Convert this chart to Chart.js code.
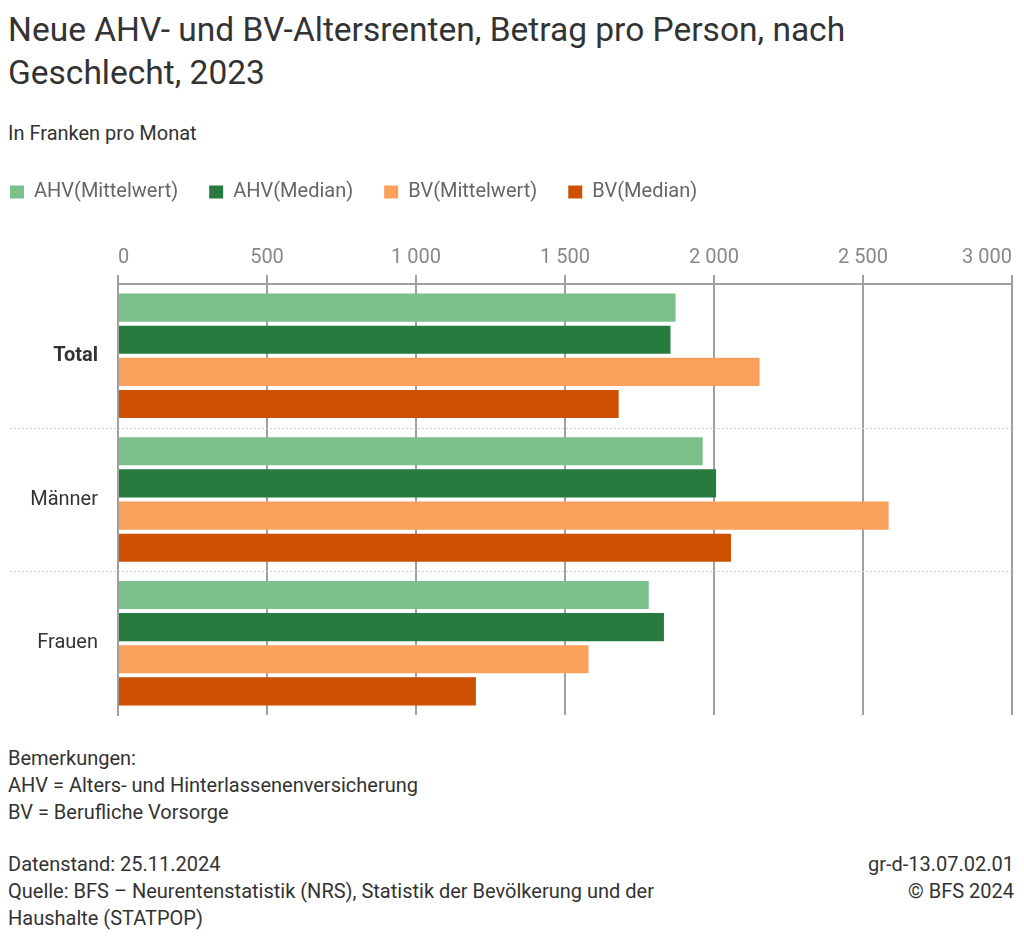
<!DOCTYPE html>
<html>
<head>
<meta charset="utf-8">
<script src="https://cdn.jsdelivr.net/npm/chart.js@4.4.1/dist/chart.umd.min.js"></script>
<style>
  html, body { margin: 0; padding: 0; background: #fff; }
  body { width: 1024px; height: 945px; position: relative; font-family: Roboto, "Noto Sans", sans-serif; color: #333; overflow: hidden; }
  #title { position: absolute; left: 8px; top: 8px; font-size: 33.5px; line-height: 43px; color: #333; width: 1000px; white-space: nowrap; }
  #subtitle { position: absolute; left: 8px; top: 121px; font-size: 20px; color: #333; }
  #wrap { position: absolute; left: 0; top: 151px; width: 1024px; height: 579px; }
  .foot { position: absolute; font-size: 20px; line-height: 27px; color: #333; white-space: nowrap; }
</style>
</head>
<body>
<div id="title">Neue AHV- und BV-Altersrenten, Betrag pro Person, nach<br>Geschlecht, 2023</div>
<div id="subtitle">In Franken pro Monat</div>
<div id="wrap"><canvas id="c"></canvas></div>
<div class="foot" style="left:8px; top:745px;">Bemerkungen:<br>AHV = Alters- und Hinterlassenenversicherung<br>BV = Berufliche Vorsorge</div>
<div class="foot" style="left:8px; top:851px;">Datenstand: 25.11.2024<br>Quelle: BFS – Neurentenstatistik (NRS), Statistik der Bevölkerung und der<br>Haushalte (STATPOP)</div>
<div class="foot" style="right:10px; top:851px; text-align:right;">gr-d-13.07.02.01<br>© BFS 2024</div>
<script>
const categories = ['Total', 'Männer', 'Frauen'];
const seriesNames = ['AHV(Mittelwert)', 'AHV(Median)', 'BV(Mittelwert)', 'BV(Median)'];
const ahvMittelwert = [1871, 1962, 1781];
const ahvMedian = [1854, 2007, 1832];
const bvMittelwert = [2153, 2586, 1579];
const bvMedian = [1680, 2057, 1201];
const seriesColors = ['#7dbf8a', '#277b3e', '#f9a05c', '#cd5000'];
const tickValues = [0, 500, 1000, 1500, 2000, 2500, 3000];

const fmt = v => String(v).replace(/\B(?=(\d{3})+(?!\d))/g, '\u00a0');

const separatorPlugin = {
  id: 'separators',
  afterDatasetsDraw(chart) {
    const y = chart.scales.y;
    const ctx = chart.ctx;
    ctx.save();
    ctx.strokeStyle = '#c8c8c8';
    ctx.lineWidth = 1;
    ctx.setLineDash([2, 2]);
    for (let i = 0; i < categories.length - 1; i++) {
      const p = (y.getPixelForValue(i) + y.getPixelForValue(i + 1)) / 2;
      ctx.beginPath();
      ctx.moveTo(10, Math.round(p) + 0.5);
      ctx.lineTo(chart.chartArea.right, Math.round(p) + 0.5);
      ctx.stroke();
    }
    ctx.restore();
  }
};

const values = [ahvMittelwert, ahvMedian, bvMittelwert, bvMedian];
new Chart(document.getElementById('c'), {
  type: 'bar',
  data: {
    labels: categories,
    datasets: seriesNames.map((n, i) => ({
      label: n,
      data: values[i],
      backgroundColor: seriesColors[i],
      borderWidth: 0,
      barPercentage: 0.875,
      categoryPercentage: 0.895
    }))
  },
  options: {
    indexAxis: 'y',
    responsive: true,
    maintainAspectRatio: false,
    animation: false,
    layout: { padding: { left: -21, right: 12, top: 0, bottom: 15 } },
    plugins: {
      legend: {
        position: 'top',
        align: 'start',
        labels: {
          boxWidth: 14, boxHeight: 13, padding: 31,
          color: '#666',
          font: { family: 'Roboto', size: 20 }
        }
      },
      tooltip: { enabled: false }
    },
    scales: {
      x: {
        position: 'top',
        min: 0, max: 3000,
        afterBuildTicks: s => { s.ticks = tickValues.map(v => ({ value: v })); },
        afterFit: s => { s.height += 29; },
        ticks: {
          callback: v => fmt(v),
          color: '#888',
          font: { family: 'Roboto', size: 20 },
          padding: 5,
          align: 'inner',
          maxRotation: 0
        },
        grid: { color: '#a0a0a0', lineWidth: 2, tickLength: 9, drawTicks: true, tickColor: '#a0a0a0' },
        border: { display: true, color: '#a0a0a0', width: 2 }
      },
      y: {
        afterFit: s => { s.width = 139; s.paddingTop = 0; s.paddingBottom = 0; },
        ticks: {
          color: '#333',
          padding: 20,
          font: ctx => ({ family: 'Roboto', size: 20, weight: ctx.index === 0 ? 'bold' : 'normal' })
        },
        grid: { display: false, drawTicks: false },
        border: { display: true, color: '#a0a0a0', width: 2 }
      }
    }
  },
  plugins: [separatorPlugin]
});
</script>
</body>
</html>
